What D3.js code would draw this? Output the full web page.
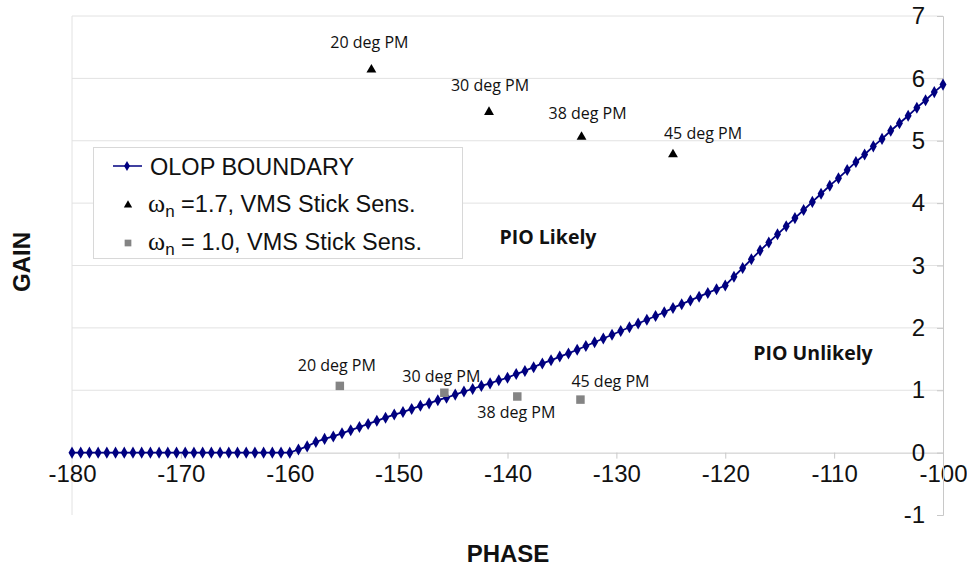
<!DOCTYPE html>
<html><head><meta charset="utf-8">
<script src="https://cdn.jsdelivr.net/npm/d3@7"></script>
<style>body{margin:0;background:#fff}svg{display:block}</style>
</head><body>
<svg id="c" width="967" height="571"></svg>
<script>
// ---- data ----
const phaseStart = -180, phaseStep = 0.8;
const olopGain = [
 0,0,0,0,0,0,0,0,0,0,0,0,0,0,0,0,0,0,0,0,0,0,0,0,0,
 0,0.05,0.10,0.17,0.22,0.26,0.31,0.36,0.41,0.46,0.51,0.56,0.61,0.65,0.70,0.75,0.79,0.84,0.88,0.93,
 0.98,1.02,1.07,1.11,1.16,1.20,1.26,1.31,1.37,1.43,1.48,1.54,1.59,1.65,1.71,1.77,1.83,1.89,1.95,2.01,
 2.07,2.13,2.19,2.25,2.32,2.38,2.44,2.50,2.56,2.62,2.68,
 2.82,2.96,3.10,3.24,3.37,3.50,3.63,3.76,3.89,4.02,4.15,4.28,4.40,4.53,4.66,4.78,4.91,5.03,5.16,5.28,5.40,5.53,5.65,5.78,5.90
];
const olopPhase = olopGain.map((_, i) => +(phaseStart + i * phaseStep).toFixed(1));

const triPhase = [-152.5, -141.7, -133.2, -124.8];
const triGain  = [6.14, 5.46, 5.06, 4.78];
const triLabel = ["20 deg PM", "30 deg PM", "38 deg PM", "45 deg PM"];

const sqPhase = [-155.4, -145.8, -139.1, -133.3];
const sqGain  = [1.07, 0.96, 0.90, 0.85];
const sqLabel = ["20 deg PM", "30 deg PM", "38 deg PM", "45 deg PM"];

const xTicks = [-180, -170, -160, -150, -140, -130, -120, -110, -100];
const yTicks = [-1, 0, 1, 2, 3, 4, 5, 6, 7];

// ---- layout ----
const svg = d3.select("#c");
const x = d3.scaleLinear().domain([-180, -100]).range([72, 943]);
const y = d3.scaleLinear().domain([-1, 7]).range([515, 16]);
const grid = "#e2e2e2";
const labelFont = "'Open Sans', sans-serif";
const fmt = d => String(d);

// gridlines
svg.append("g").selectAll("line").data(yTicks.filter(d => d >= 1)).join("line")
  .attr("x1", x(-180)).attr("x2", x(-100))
  .attr("y1", d => y(d)).attr("y2", d => y(d))
  .attr("stroke", grid).attr("stroke-width", 1);
// left plot border
svg.append("line").attr("x1", x(-180)).attr("x2", x(-180)).attr("y1", y(7)).attr("y2", y(-1))
  .attr("stroke", grid);

// x axis at y=0
const xAxis = svg.append("g").attr("transform", `translate(0,${y(0)})`)
  .call(d3.axisBottom(x).tickValues(xTicks).tickFormat(fmt).tickSize(6).tickPadding(6));
xAxis.select(".domain").attr("stroke", "#c8c8c8");
xAxis.selectAll(".tick line").attr("stroke", "#c8c8c8");
xAxis.selectAll("text").attr("font-family", "Arial, 'Liberation Sans', sans-serif")
  .attr("font-size", 24).attr("fill", "#111");

// y axis at x=-100
const yAxis = svg.append("g").attr("transform", `translate(${x(-100)},0)`)
  .call(d3.axisLeft(y).tickValues(yTicks).tickFormat(fmt).tickSize(6).tickPadding(12));
yAxis.select(".domain").attr("stroke", "#c8c8c8");
yAxis.selectAll(".tick line").attr("stroke", "#c8c8c8");
yAxis.selectAll("text").attr("font-family", "Arial, 'Liberation Sans', sans-serif")
  .attr("font-size", 24).attr("fill", "#111");

// OLOP line
const pts = olopPhase.map((p, i) => [p, olopGain[i]]);
svg.append("path").datum(pts)
  .attr("d", d3.line().x(d => x(d[0])).y(d => y(d[1])))
  .attr("fill", "none").attr("stroke", "#000080").attr("stroke-width", 1.8);
const diamond = d3.symbol().type(d3.symbolDiamond).size(42);
svg.append("g").selectAll("path").data(pts).join("path")
  .attr("transform", d => `translate(${x(d[0])},${y(d[1])})`)
  .attr("d", diamond).attr("fill", "#000080");

// triangles
const tri = d3.symbol().type(d3.symbolTriangle).size(42);
svg.append("g").selectAll("path").data(triPhase).join("path")
  .attr("transform", (d, i) => `translate(${x(d)},${y(triGain[i])})`)
  .attr("d", tri).attr("fill", "#000");
const triOff = [[-2, -22], [1, -21], [6, -18], [30, -15]];
svg.append("g").selectAll("text").data(triLabel).join("text")
  .attr("x", (d, i) => x(triPhase[i]) + triOff[i][0])
  .attr("y", (d, i) => y(triGain[i]) + triOff[i][1])
  .attr("text-anchor", "middle").attr("font-family", labelFont).attr("font-size", 16)
  .attr("fill", "#111").text(d => d);

// squares
const sq = d3.symbol().type(d3.symbolSquare).size(72);
svg.append("g").selectAll("path").data(sqPhase).join("path")
  .attr("transform", (d, i) => `translate(${x(d)},${y(sqGain[i])})`)
  .attr("d", sq).attr("fill", "#848484");
const sqOff = [[-3, -15], [-3, -11], [-1, 22], [30, -13]];
svg.append("g").selectAll("text").data(sqLabel).join("text")
  .attr("x", (d, i) => x(sqPhase[i]) + sqOff[i][0])
  .attr("y", (d, i) => y(sqGain[i]) + sqOff[i][1])
  .attr("text-anchor", "middle").attr("font-family", labelFont).attr("font-size", 16)
  .attr("fill", "#111").text(d => d);

// region labels
svg.append("text").attr("x", 548).attr("y", 244).attr("text-anchor", "middle")
  .attr("font-family", labelFont).attr("font-weight", "bold").attr("font-size", 19.5)
  .attr("fill", "#111").text("PIO Likely");
svg.append("text").attr("x", 813).attr("y", 360).attr("text-anchor", "middle")
  .attr("font-family", labelFont).attr("font-weight", "bold").attr("font-size", 19.5)
  .attr("fill", "#111").text("PIO Unlikely");

// axis titles
svg.append("text").attr("transform", "translate(30,262) rotate(-90)").attr("text-anchor", "middle")
  .attr("font-family", "Arial, 'Liberation Sans', sans-serif").attr("font-weight", "bold")
  .attr("font-size", 24).attr("fill", "#111").text("GAIN");
svg.append("text").attr("x", 508).attr("y", 562).attr("text-anchor", "middle")
  .attr("font-family", "Arial, 'Liberation Sans', sans-serif").attr("font-weight", "bold")
  .attr("font-size", 24).attr("fill", "#111").text("PHASE");

// legend
const lg = svg.append("g");
lg.append("rect").attr("x", 93.5).attr("y", 147.5).attr("width", 369).attr("height", 111)
  .attr("fill", "#fff").attr("stroke", "#d8d8d8");
lg.append("line").attr("x1", 113).attr("x2", 142).attr("y1", 166).attr("y2", 166)
  .attr("stroke", "#000080").attr("stroke-width", 1.5);
lg.append("path").attr("transform", "translate(127,166)").attr("d", d3.symbol().type(d3.symbolDiamond).size(30)).attr("fill", "#000080");
const lf = "Arial, 'Liberation Sans', sans-serif";
lg.append("text").attr("x", 150).attr("y", 175).attr("font-family", lf).attr("font-size", 23.5)
  .attr("fill", "#111").text("OLOP BOUNDARY");
lg.append("path").attr("transform", "translate(128,205)").attr("d", d3.symbol().type(d3.symbolTriangle).size(30)).attr("fill", "#000");
const t2 = lg.append("text").attr("x", 148).attr("y", 212).attr("font-family", lf).attr("font-size", 23.5).attr("fill", "#111");
t2.append("tspan").attr("font-family", "'Liberation Serif', serif").attr("font-size", 26).text("ω");
t2.append("tspan").attr("font-size", 17).attr("dy", 5).text("n");
t2.append("tspan").attr("dy", -5).text(" =1.7, VMS Stick Sens.");
lg.append("path").attr("transform", "translate(128,243)").attr("d", d3.symbol().type(d3.symbolSquare).size(45)).attr("fill", "#848484");
const t3 = lg.append("text").attr("x", 148).attr("y", 250).attr("font-family", lf).attr("font-size", 23.5).attr("fill", "#111");
t3.append("tspan").attr("font-family", "'Liberation Serif', serif").attr("font-size", 26).text("ω");
t3.append("tspan").attr("font-size", 17).attr("dy", 5).text("n");
t3.append("tspan").attr("dy", -5).text(" = 1.0, VMS Stick Sens.");
</script>
</body></html>
